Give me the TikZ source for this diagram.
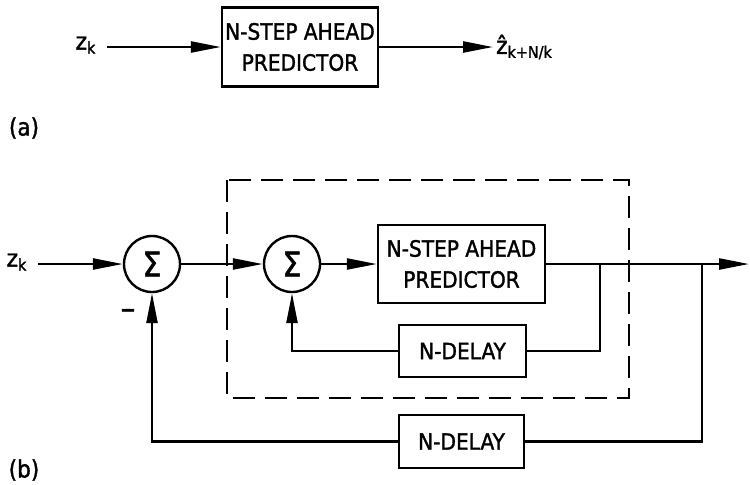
\documentclass[tikz,border=0pt]{standalone}
\usepackage{fontspec}
\setmainfont{DejaVu Sans Condensed}[FakeBold=1.5]
\usetikzlibrary{arrows.meta}
\begin{document}
\begin{tikzpicture}[>={Triangle[length=15pt,width=5.5pt]},x=0.5pt,y=-0.5pt,line width=1.2pt,
	blok/.style={draw,align=center,inner sep=0pt,font=\fontsize{11.2}{15.5}\selectfont},
	sumnode/.style={draw,circle,minimum size=28pt,inner sep=0pt,font=\fontsize{17}{17}\selectfont},
	lbl/.style={inner sep=1pt,font=\fontsize{12}{14}\selectfont},
	dashbox/.style={dash pattern=on 11pt off 5pt}]
	\useasboundingbox (0,0) rectangle (750,484);
	% (a)
	\node[blok,minimum width=78pt,minimum height=39.5pt] (pa) at (300,47) {N-STEP AHEAD\\PREDICTOR};
	\node[lbl] (za) at (86,45) {z\textsubscript{k}};
	\coordinate (ina) at (107,47);
	\node[lbl,anchor=west] (zha) at (493,47) {ẑ\textsubscript{k+N/k}};
	\draw[->] (ina) -- (pa.west);
	\draw[->] (pa.east) -- (zha.west);
	\node[lbl] (capa) at (24,128) {(a)};
	% (b)
	\node[lbl] (zb) at (17,262) {z\textsubscript{k}};
	\coordinate (inb) at (38,264);
	\node[sumnode] (s1) at (152,264) {Σ};
	\node[sumnode] (s2) at (292,264) {Σ};
	\node[blok,minimum width=83.5pt,minimum height=39pt] (pb) at (461.5,264) {N-STEP AHEAD\\PREDICTOR};
	\node[blok,minimum width=63.5pt,minimum height=26pt] (d1) at (462.5,351) {N-DELAY};
	\node[blok,minimum width=62.5pt,minimum height=26.5pt] (d2) at (461.5,441.5) {N-DELAY};
	\coordinate (b1) at (600,264);
	\coordinate (b2) at (702,264);
	\coordinate (out) at (749,264);
	\draw[->] (inb) -- (s1);
	\draw[->] (s1) -- (s2);
	\draw[->] (s2) -- (pb);
	\draw[->] (pb) -- (out);
	\draw (b1) |- (d1.east);
	\draw[->] (d1.west) -| (s2.south);
	\draw (b2) |- (d2.east);
	\draw[->] (d2.west) -| (s1.south);
	\draw[dashbox] (227,180) rectangle (629,398);
	\node[lbl,font=\fontsize{16}{16}\selectfont] (minus) at (128,314) {–};
	\node[lbl] (capb) at (24,470) {(b)};
\end{tikzpicture}
\end{document}
